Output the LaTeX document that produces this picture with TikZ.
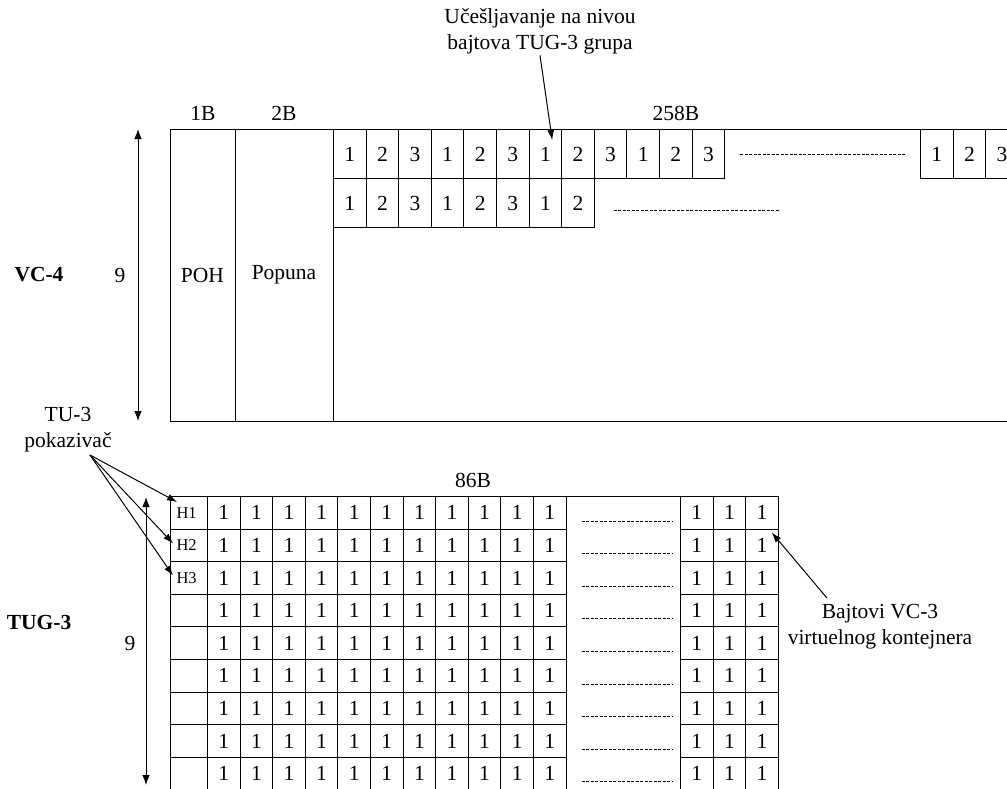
\documentclass[tikz,border=0pt]{standalone}
\usepackage{fontspec}
\setmainfont{Liberation Serif}
\usepackage{tikz}
\usetikzlibrary{arrows.meta, positioning}
\tikzset{cell/.style={rectangle,draw,anchor=north west,inner sep=0pt,minimum width=32.6pt},vcell/.style={cell,minimum height=49pt},tcell/.style={cell,minimum height=32.6pt},hcell/.style={tcell,minimum width=37pt,text width=25pt,inner xsep=6pt,align=left,font=\fontsize{16.5}{19}\selectfont},colbox/.style={rectangle,draw,inner sep=0pt,minimum height=292pt},lbl/.style={align=center,inner sep=1pt},title/.style={font=\fontsize{21.5}{26}\selectfont\bfseries},line/.style={-{Latex[length=10pt,width=7pt]}},span/.style={{Latex[length=10pt,width=7.5pt]}-{Latex[length=10pt,width=7.5pt]}},gap/.style={dash pattern=on 3pt off 1.5pt,line width=0.6pt}}

\begin{document}
\begin{tikzpicture}[x=1pt,y=-1pt,line width=1pt,font=\fontsize{21.5}{26}\selectfont]
\useasboundingbox (0,0) rectangle (1007,788);
\clip (0,0) rectangle (1007,788);
% VC-4
\draw (1010,129) -- (170,129) -- (170,421) -- (1010,421);
\node[colbox,minimum width=65pt] (poh) at (202.5,275) {POH};
\node[colbox,minimum width=98pt] (popuna) at (284,275) {Popuna};
\foreach \v [count=\i from 0] in {1,2,3,1,2,3,1,2,3,1,2,3}
  \node[vcell] (a\i) at (333+32.6*\i,129) {\v};
\foreach \v [count=\i from 0] in {1,2,3,1,2,3,1,2}
  \node[vcell] (b\i) at (333+32.6*\i,178) {\v};
\foreach \v [count=\i from 0] in {1,2,3}
  \node[vcell] (c\i) at (920+32.6*\i,129) {\v};
\draw[gap] ([xshift=15pt]a11.east) -- ([xshift=-15pt]c0.west);
\draw[gap] ([xshift=19pt,yshift=-7.5pt]b7.east) -- ++(165,0);
\node (l1b) at (203,113) {1B};
\node (l2b) at (284,113) {2B};
\node (l258b) at (676,113) {258B};
\node[lbl] (comb) at (540,31) {Učešljavanje na nivou\\bajtova TUG-3 grupa};
\draw[line] (comb.south) -- ([xshift=-10pt,yshift=-11pt]a6.north east);
\node[title] (vc4) at (39,275) {VC-4};
\node (nine1) at (120,275) {9};
\coordinate (v4t) at (138,129);
\coordinate (v4b) at (138,421);
\draw[span] (v4t) -- (v4b);
% TUG-3
\foreach \r in {0,...,8}{
  \node[hcell] (h\r) at (170,496+32.6*\r) {\ifnum\r<3 H\the\numexpr\r+1\relax\fi};
  \foreach \c in {0,...,10}
    \node[tcell] (t\r-\c) at (207+32.6*\c,496+32.6*\r) {1};
  \foreach \c in {0,1,2}
    \node[tcell] (e\r-\c) at (680+32.6*\c,496+32.6*\r) {1};
  \draw[gap] ([xshift=15pt,yshift=-8pt]t\r-10.east) -- ([xshift=-8pt,yshift=-8pt]e\r-0.west);
}
\draw (t0-10.north east) -- (e0-0.north west);
\node (l86b) at (473,480) {86B};
\node[lbl] (tu3) at (68,430) {TU-3\\pokazivač};
\coordinate (ptr) at (90,455);
\draw[line] (ptr) -- ([xshift=7pt,yshift=-6pt]h0.north west);
\draw[line] (ptr) -- ([xshift=3pt,yshift=2pt]h1.west);
\draw[line] (ptr) -- ([xshift=3pt,yshift=2.5pt]h2.west);
\node[title] (tug3) at (39,622) {TUG-3};
\node (nine2) at (130,643) {9};
\coordinate (t3t) at (146,497);
\coordinate (t3b) at (146,785);
\draw[span] (t3t) -- (t3b);
\node[lbl] (vc3) at (880,627) {Bajtovi VC-3\\virtuelnog kontejnera};
\draw[line] ([xshift=-53pt,yshift=5pt]vc3.north) -- ([xshift=-7pt,yshift=-4pt]e1-2.north east);
\end{tikzpicture}
\end{document}
